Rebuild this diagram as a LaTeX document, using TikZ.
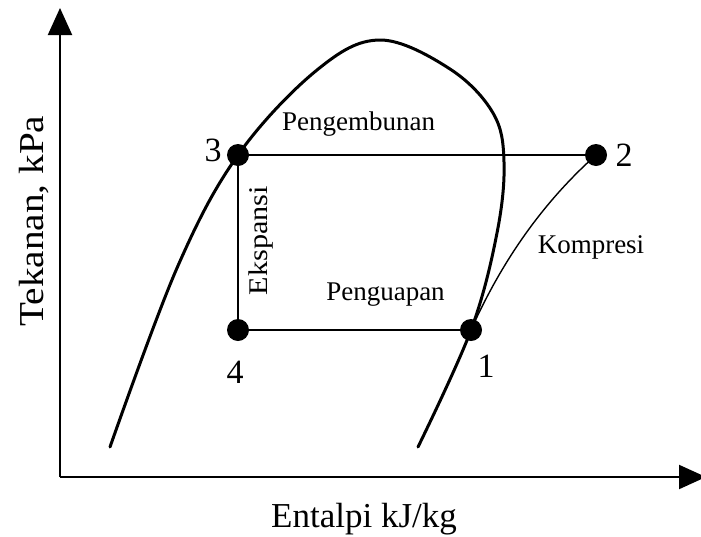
\documentclass[tikz,border=0pt]{standalone}
\usepackage{fontspec}
\setmainfont{Liberation Serif}
\usetikzlibrary{arrows.meta}
\tikzset{
  pt/.style={circle, fill=black, inner sep=0pt, minimum size=22pt},
  lbl/.style={inner sep=0pt, font=\fontsize{27}{30}\selectfont},
  num/.style={inner sep=0pt, font=\fontsize{34}{36}\selectfont},
  axlbl/.style={inner sep=0pt, font=\fontsize{35}{40}\selectfont},
  axis/.style={line width=2pt, -{Triangle[length=27pt,width=24pt]}},
  dome/.style={line width=3pt, line cap=round, line join=round},
  thin/.style={line width=1.4pt},
}
\begin{document}
\begin{tikzpicture}[x=1pt,y=-1pt]
\useasboundingbox (0,0) rectangle (701,536);
% axes
\coordinate (O) at (60,477);
\coordinate (Ytop) at (60,8);
\coordinate (Xend) at (706,477);
\draw[axis] (O) -- (Ytop);
\draw[axis] (O) -- (Xend);
% saturation dome
\draw[dome] plot[smooth, tension=0.6] coordinates {
 (110,447) (177,268) (238,155) (317,70) (380,40) (450,69) (493,113)
 (504,162) (497,233) (471,330) (418,447)};
% cycle points
\node[pt] (p3) at (238,155) {};
\node[pt] (p2) at (596,155) {};
\node[pt] (p4) at (238,330) {};
\node[pt] (p1) at (471,330) {};
\draw[thin] (p3.center) -- (p2);
\draw[thin] (p3) -- (p4);
\draw[thin] (p4) -- (p1);
\draw[thin] (p1.center) .. controls (500,265) and (540,205) .. (p2.center);
% point labels
\node[num] (n3) at (213,150) {3};
\node[num] (n2) at (624,155) {2};
\node[num] (n4) at (235,372) {4};
\node[num] (n1) at (486,366) {1};
% process labels
\node[lbl, anchor=base] (lk) at (358.5,130) {Pengembunan};
\node[lbl, anchor=base] (le) at (385.5,300) {Penguapan};
\node[lbl, anchor=base] (lc) at (591,253) {Kompresi};
\node[lbl, anchor=base, rotate=90, xscale=1.12] (lx) at (267,240.5) {Ekspansi};
% axis labels
\node[axlbl, anchor=base, rotate=90, xscale=1.12] (ly) at (43,221) {Tekanan, kPa};
\node[axlbl, anchor=base] (lh) at (364,527) {Entalpi kJ/kg};
\end{tikzpicture}
\end{document}
